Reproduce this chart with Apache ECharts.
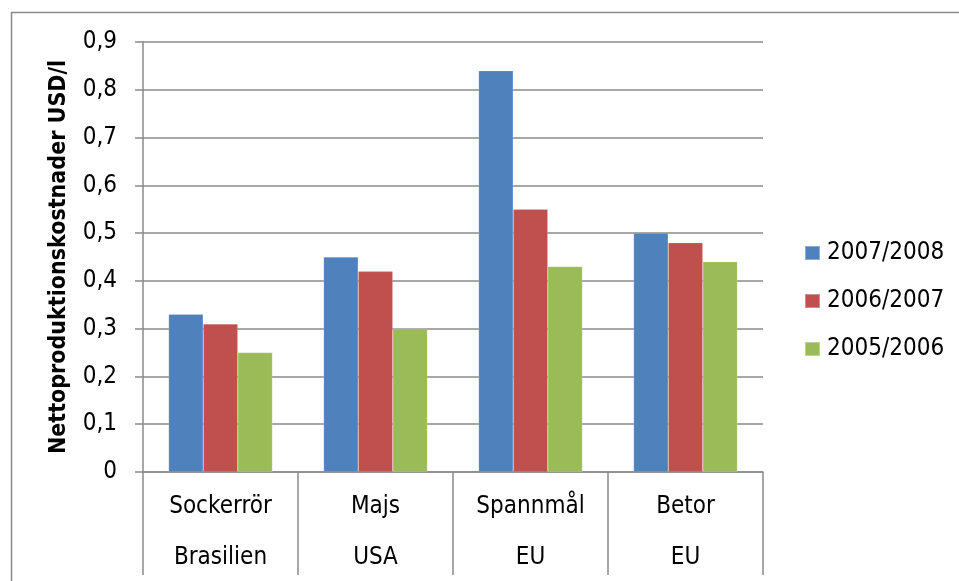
<!DOCTYPE html>
<html>
<head>
<meta charset="utf-8">
<script src="https://cdn.jsdelivr.net/npm/echarts@6/dist/echarts.min.js"></script>
<style>
  html, body { margin: 0; padding: 0; background: #fff; }
  #chart { width: 959px; height: 581px; }
</style>
</head>
<body>
<div id="chart"></div>
<script>
// Crops (first label row) and regions (second label row)
const crops = ['Sockerrör', 'Majs', 'Spannmål', 'Betor'];
const regions = ['Brasilien', 'USA', 'EU', 'EU'];

// Net production cost, USD per litre
const season0708 = [0.33, 0.45, 0.84, 0.50];
const season0607 = [0.31, 0.42, 0.55, 0.48];
const season0506 = [0.25, 0.30, 0.43, 0.44];

const seriesNames = ['2007/2008', '2006/2007', '2005/2006'];
const seriesColors = ['#4F81BD', '#C0504D', '#9BBB59'];

const yTicks = { min: 0, max: 0.9, step: 0.1 };

const FONT = '"DejaVu Sans Condensed", "DejaVu Sans", sans-serif';
const lineGray = '#8a8a8a';

const chart = echarts.init(document.getElementById('chart'), null, { renderer: 'canvas' });

const categories = crops.map((c, i) => c + '\n' + regions[i]);

function barSeries(name, data, color) {
  return {
    name: name,
    type: 'bar',
    data: data,
    barGap: '0%',
    barCategoryGap: '33%',
    itemStyle: { color: color, borderColor: 'rgba(255,255,255,0.35)', borderWidth: 0.5 },
    emphasis: { disabled: true }
  };
}

chart.setOption({
  animation: false,
  backgroundColor: '#fff',
  textStyle: { fontFamily: FONT, color: '#000' },
  graphic: [{
    type: 'rect',
    shape: { x: 11.5, y: 12.5, width: 1000, height: 700 },
    style: { fill: 'none', stroke: lineGray, lineWidth: 1.5 },
    silent: true,
    z: -1
  }],
  grid: { left: 143, right: 196, top: 42, bottom: 109, outerBoundsMode: 'none', containLabel: false },
  legend: {
    orient: 'vertical',
    left: 799,
    top: 236,
    itemWidth: 15,
    itemHeight: 14,
    itemGap: 24,
    icon: 'rect',
    data: seriesNames,
    textStyle: { fontFamily: FONT, fontSize: 24, color: '#000', lineHeight: 24, padding: [0, 0, 0, 2] }
  },
  xAxis: {
    type: 'category',
    data: categories,
    boundaryGap: true,
    axisLine: { show: true, lineStyle: { color: lineGray, width: 1.5 } },
    axisTick: { show: true, length: 103, interval: 0, lineStyle: { color: lineGray, width: 1.5 } },
    axisLabel: {
      interval: 0,
      margin: 9,
      fontFamily: FONT,
      fontSize: 24,
      lineHeight: 51,
      color: '#000'
    }
  },
  yAxis: {
    type: 'value',
    min: yTicks.min,
    max: yTicks.max,
    interval: yTicks.step,
    name: 'Nettoproduktionskostnader USD/l',
    nameLocation: 'middle',
    nameRotate: 90,
    nameGap: 72,
    nameTextStyle: { fontFamily: FONT, fontSize: 23, fontWeight: 'bold', color: '#000' },
    axisLine: { show: true, lineStyle: { color: lineGray, width: 1.5 } },
    axisTick: { show: true, inside: false, length: 8, lineStyle: { color: lineGray, width: 1.5 } },
    axisLabel: {
      margin: 26,
      fontFamily: FONT,
      fontSize: 24,
      color: '#000',
      formatter: v => (Math.round(v * 10) / 10).toString().replace('.', ',')
    },
    splitLine: { show: true, lineStyle: { color: lineGray, width: 1.5 } }
  },
  series: [
    barSeries(seriesNames[0], season0708, seriesColors[0]),
    barSeries(seriesNames[1], season0607, seriesColors[1]),
    barSeries(seriesNames[2], season0506, seriesColors[2])
  ]
});
</script>
</body>
</html>
